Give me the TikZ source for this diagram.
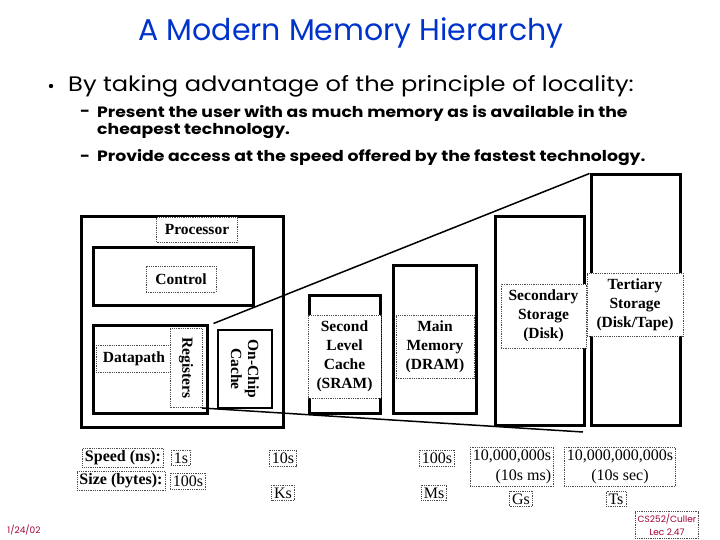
\documentclass[tikz,border=0pt]{standalone}
\usepackage{fontspec}
\setmainfont{Liberation Serif}
\newfontfamily\comicfont{Poppins}
\newfontfamily\comicwide{Poppins}[FakeStretch=1.15]
\usepackage{tikz}
\usetikzlibrary{positioning}
\definecolor{titleblue}{RGB}{0,51,204}
\definecolor{slidered}{RGB}{160,0,55}

\tikzset{
  unit/.style={draw, line width=3pt, inner sep=0pt},
  tag/.style={draw=black!70, densely dotted, line width=0.8pt, fill=white, inner sep=2pt,
    align=center, font=\fontsize{15.5}{19}\selectfont\bfseries},
  num/.style={draw=black!70, densely dotted, line width=0.8pt, inner sep=2.5pt,
    align=center, font=\fontsize{16}{20}\selectfont},
  fan/.style={line width=1.5pt},
  point/.style={font=\comicwide\fontsize{21}{23}\selectfont, anchor=west, inner sep=0pt},
  subpoint/.style={font=\comicwide\bfseries\fontsize{15}{17}\selectfont, anchor=west, inner sep=0pt},
}

\begin{document}
\begin{tikzpicture}[x=1pt,y=-1pt]

		\useasboundingbox (0,0) rectangle (720,540);
		
		\node (title) at (351,33) {\comicfont\fontsize{30}{32}\selectfont\color{titleblue}A Modern Memory Hierarchy};
		
		\fill (51,86) circle (2.2);
		\node[point] (locality) at (68,86) {By taking advantage of the principle of locality:};
		\node[subpoint] (dashA) at (80,113) {-};
		\node[subpoint] (present) at (97,113) {Present the user with as much memory as is available in the};
		\node[subpoint] (cheap) at (97,131) {cheapest technology.};
		\node[subpoint] (dashB) at (80,158) {-};
		\node[subpoint] (provide) at (97,158) {Provide access at the speed offered by the fastest technology.};
		
		
		\node[unit, minimum width=202, minimum height=210] (proc) at (182,322) {};
		\node[unit, minimum width=160, minimum height=58] (ctrl) at (173,276) {};
		\node[unit, minimum width=114, minimum height=88] (dpath) at (150,369) {};
		\node[unit, line width=2.5pt, minimum width=54, minimum height=78] (onchip) at (245,369) {};
		\node[unit, minimum width=71, minimum height=118] (l2) at (344.5,354) {};
		\node[unit, minimum width=83, minimum height=148] (dram) at (434.5,339) {};
		\node[unit, minimum width=89, minimum height=208] (disk) at (539.5,321) {};
		\node[unit, minimum width=89, minimum height=250] (tape) at (635.5,300) {};
		
		
		\node[tag, minimum width=81, minimum height=25] (procT) at (197,230) {Processor};
		\node[tag, minimum width=70, minimum height=26] (ctrlT) at (181,279) {Control};
		\node[tag, minimum width=76, minimum height=27] (dpathT) at (134,359) {Datapath};
		\node[tag, rotate=-90, minimum width=79, minimum height=32] (regT) at (186,368) {Registers};
		\node[rotate=-90, align=center, font=\fontsize{15.5}{17}\selectfont\bfseries] (onchipT) at (245,369) {On-Chip\\Cache};
		\node[tag, minimum width=73, minimum height=83] (l2T) at (344.5,356.5) {Second\\Level\\Cache\\(SRAM)};
		\node[tag, minimum width=78, minimum height=63] (dramT) at (435,346.5) {Main\\Memory\\(DRAM)};
		\node[tag, minimum width=85, minimum height=64] (diskT) at (543.5,316) {Secondary\\Storage\\(Disk)};
		\node[tag, minimum width=96, minimum height=63] (tapeT) at (635,304.5) {Tertiary\\Storage\\(Disk/Tape)};
		
		
		\coordinate (fanA) at ([xshift=5pt]dpath.north east);
		\coordinate (fanB) at (202,408);
		\coordinate (fanC) at (583,432);
		\draw[fan] (fanA) -- (tape.north west);
		\draw[fan] (fanB) -- (fanC);
		
		
		\node[num, font=\fontsize{16}{20}\selectfont\bfseries] (speed) at (123,458) {Speed (ns):};
		\node[num] (speedA) at (181,458) {1s};
		\node[num, font=\fontsize{16}{20}\selectfont\bfseries] (size) at (121,481) {Size (bytes):};
		\node[num] (sizeA) at (188,481) {100s};
		\node[num] (speedB) at (283,458) {10s};
		\node[num] (sizeB) at (283,493) {Ks};
		\node[num] (speedC) at (437,458) {100s};
		\node[num] (sizeC) at (434,493) {Ms};
		\node[num, align=right] (speedD) at (512,467) {10,000,000s\\(10s ms)};
		\node[num] (sizeD) at (521,499) {Gs};
		\node[num] (speedE) at (620,467) {10,000,000,000s\\(10s sec)};
		\node[num] (sizeE) at (616,499) {Ts};
		
		\node[num, text=slidered, font=\comicfont\fontsize{9}{13}\selectfont] (course) at (667,525) {CS252/Culler\\Lec 2.47};
		\node[text=slidered, font=\comicfont\fontsize{9}{11}\selectfont] (date) at (24,530) {1/24/02};
	\end{tikzpicture}
\end{document}
